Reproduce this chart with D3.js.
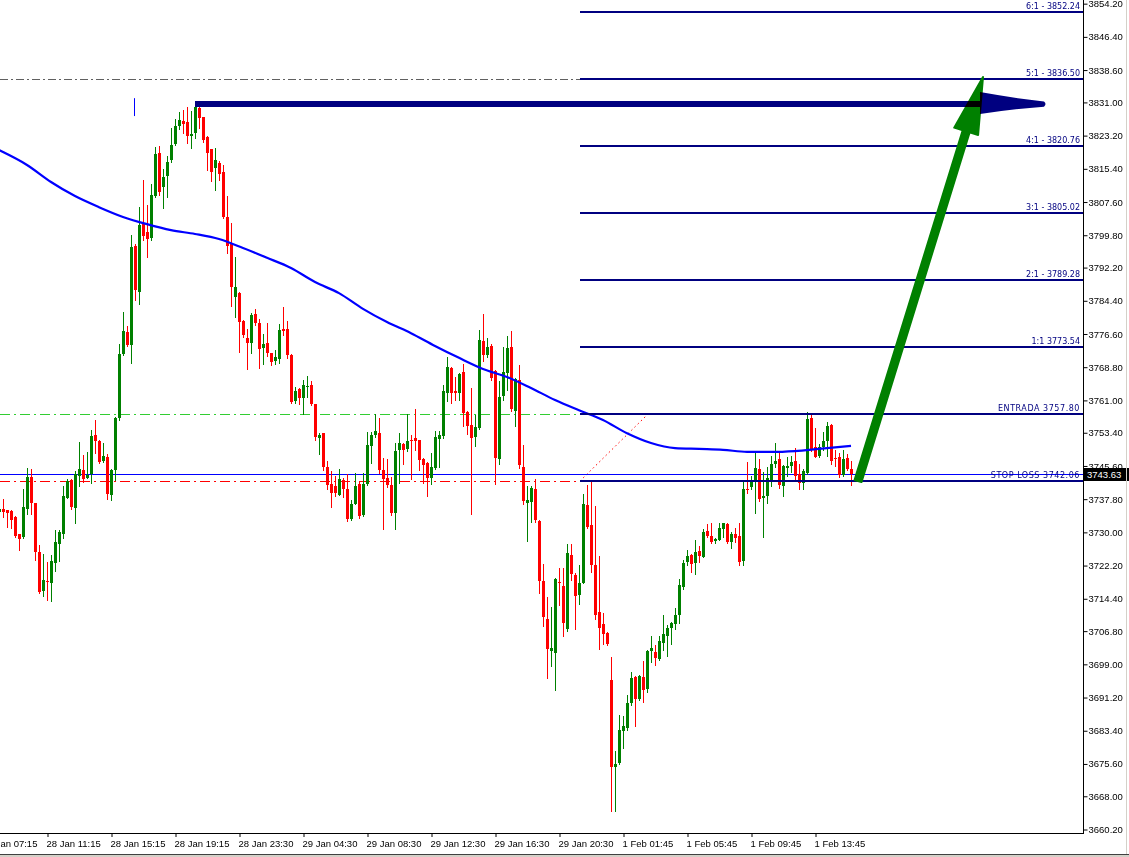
<!DOCTYPE html>
<html><head><meta charset="utf-8">
<script src="https://cdn.jsdelivr.net/npm/d3@7"></script>
<style>html,body{margin:0;padding:0;background:#fff;}svg{display:block;}</style>
</head><body>
<svg id="chart" width="1129" height="857"></svg>
<script>
// ---- data ----
const firstIndex = -1; // index of first candle in the array (bar position)
// [open, high, low, close]
const candles = [
[3734.8,3737.6,3733.8,3735.5],[3735.5,3737.8,3733.6,3734.8],[3735.3,3735.3,3731.3,3734.6],[3735.0,3735.3,3731.0,3732.9],
[3733.6,3733.8,3728.9,3729.1],[3729.6,3729.6,3725.9,3728.4],[3728.9,3740.2,3728.7,3736.0],[3735.5,3745.1,3734.3,3743.0],
[3743.0,3744.9,3734.3,3736.9],[3736.9,3737.0,3723.5,3725.4],[3725.4,3727.0,3715.8,3716.0],[3716.2,3724.9,3715.1,3718.8],
[3718.6,3723.0,3714.1,3718.3],[3718.1,3724.7,3713.9,3723.3],[3722.8,3730.6,3720.9,3727.7],[3727.3,3730.6,3723.3,3730.1],
[3729.6,3740.9,3728.7,3738.5],[3738.1,3742.5,3738.0,3742.1],[3742.3,3742.5,3735.5,3736.0],[3735.7,3744.4,3732.2,3743.7],
[3743.2,3751.2,3740.9,3744.9],[3744.7,3748.2,3741.8,3742.5],[3742.8,3748.9,3742.7,3743.5],[3743.7,3754.0,3741.6,3752.6],
[3752.9,3756.4,3748.6,3751.5],[3751.5,3751.6,3746.3,3746.5],[3746.8,3751.0,3746.6,3747.9],[3747.7,3748.4,3737.8,3739.0],
[3738.8,3744.9,3737.6,3744.7],[3744.7,3757.1,3742.3,3756.9],[3756.9,3774.2,3756.4,3771.9],[3771.9,3781.8,3771.7,3777.3],
[3777.1,3778.5,3773.8,3774.0],[3774.0,3799.9,3769.8,3797.0],[3797.3,3797.7,3784.6,3786.9],[3786.5,3806.4,3783.6,3802.2],
[3802.7,3812.8,3798.7,3799.6],[3800.6,3806.9,3794.7,3798.9],[3799.1,3811.8,3798.7,3809.2],[3809.0,3820.5,3808.8,3818.9],
[3819.1,3820.8,3809.2,3810.0],[3811.1,3815.3,3806.2,3813.5],[3813.7,3818.4,3808.8,3817.0],[3817.5,3825.0,3817.0,3821.0],
[3821.2,3827.1,3821.0,3825.5],[3825.5,3828.7,3824.7,3826.9],[3826.6,3829.2,3823.8,3825.9],[3826.4,3829.9,3821.5,3823.1],
[3823.1,3829.0,3820.3,3823.6],[3823.8,3830.6,3822.6,3829.9],[3829.7,3830.4,3825.0,3827.3],[3827.5,3827.6,3821.7,3822.2],
[3822.9,3823.0,3815.1,3819.1],[3820.0,3820.1,3812.5,3814.6],[3815.6,3820.3,3810.4,3817.5],[3816.7,3817.2,3812.8,3814.2],
[3814.6,3816.3,3803.9,3804.1],[3804.1,3809.0,3795.6,3797.3],[3797.7,3802.7,3783.2,3787.6],[3785.3,3794.7,3780.6,3787.6],
[3786.2,3786.5,3772.4,3779.4],[3779.6,3779.9,3775.9,3776.4],[3775.6,3777.8,3768.4,3774.5],[3774.5,3781.5,3772.1,3781.1],
[3781.3,3782.5,3778.7,3779.2],[3779.2,3780.1,3768.6,3773.1],[3773.3,3776.6,3769.5,3774.2],[3774.5,3779.2,3771.4,3772.1],
[3772.1,3772.2,3769.3,3770.0],[3770.3,3772.8,3769.5,3771.2],[3770.7,3778.9,3769.8,3777.5],[3777.8,3782.9,3776.4,3777.3],
[3777.8,3779.6,3770.9,3771.7],[3771.7,3771.8,3760.4,3760.6],[3760.9,3764.1,3760.4,3763.2],[3763.7,3763.8,3760.1,3761.6],
[3761.6,3765.8,3757.8,3764.6],[3764.4,3766.7,3761.8,3764.4],[3764.6,3765.6,3759.9,3760.1],[3760.1,3760.2,3751.7,3752.4],
[3752.2,3753.3,3748.4,3752.9],[3753.3,3753.4,3744.7,3745.4],[3745.4,3746.8,3740.2,3741.1],[3741.4,3744.4,3736.0,3739.2],
[3740.9,3743.2,3738.5,3739.2],[3738.8,3744.9,3738.7,3742.5],[3742.3,3742.8,3738.3,3740.2],[3740.2,3743.7,3732.7,3733.1],
[3733.1,3737.6,3732.9,3736.7],[3736.7,3743.9,3736.6,3740.9],[3741.4,3742.1,3733.4,3733.8],[3734.1,3743.9,3733.9,3741.4],
[3741.4,3753.6,3741.1,3750.5],[3750.3,3753.6,3746.3,3752.9],[3752.9,3757.8,3752.4,3753.8],[3753.3,3756.9,3743.9,3744.7],
[3744.7,3747.5,3730.8,3742.5],[3742.8,3747.2,3740.6,3741.1],[3741.1,3743.0,3734.1,3734.6],[3734.6,3751.0,3730.8,3749.1],
[3749.3,3753.3,3741.6,3751.0],[3750.8,3750.9,3746.1,3749.3],[3749.6,3757.8,3749.1,3751.5],[3751.7,3752.9,3742.5,3751.5],
[3752.2,3759.0,3749.3,3751.5],[3751.7,3751.8,3744.7,3747.0],[3747.2,3747.5,3741.6,3745.8],[3746.3,3746.5,3738.5,3742.8],
[3742.8,3748.6,3741.4,3745.4],[3745.1,3753.8,3745.0,3752.4],[3751.9,3753.8,3745.4,3752.9],[3752.6,3764.6,3752.2,3763.2],
[3762.7,3771.2,3760.9,3768.8],[3768.6,3768.8,3760.4,3762.7],[3763.2,3766.5,3761.1,3762.7],[3762.7,3767.4,3761.1,3767.2],
[3767.7,3769.6,3755.0,3758.0],[3758.3,3758.5,3753.1,3755.0],[3755.2,3763.9,3734.3,3752.2],[3752.4,3757.6,3750.3,3754.7],
[3754.5,3777.5,3754.3,3775.2],[3774.9,3781.3,3770.3,3771.7],[3771.7,3775.6,3771.2,3773.5],[3773.8,3774.2,3765.8,3766.3],
[3767.9,3768.1,3741.4,3747.5],[3747.2,3765.6,3746.1,3761.8],[3762.0,3773.5,3761.1,3767.7],[3767.4,3776.1,3763.4,3773.3],
[3773.5,3777.3,3758.5,3759.0],[3758.5,3766.3,3755.0,3766.0],[3765.8,3769.3,3745.1,3745.8],[3745.4,3750.5,3736.7,3737.4],
[3736.9,3740.9,3727.9,3737.6],[3737.1,3740.9,3732.4,3740.4],[3740.2,3742.5,3732.4,3732.9],[3732.7,3732.9,3715.8,3718.6],
[3718.6,3722.6,3708.0,3710.1],[3709.6,3714.8,3695.8,3702.6],[3702.1,3712.5,3698.6,3702.8],[3701.6,3719.3,3693.0,3719.0],
[3718.3,3721.6,3712.9,3718.1],[3717.4,3721.6,3705.6,3708.7],[3707.3,3727.3,3706.8,3725.2],[3724.7,3727.3,3718.8,3720.2],
[3720.0,3720.5,3707.3,3715.1],[3715.3,3722.3,3713.2,3718.1],[3718.1,3739.0,3718.0,3736.7],[3736.4,3741.1,3731.1,3731.3],
[3731.7,3742.1,3720.7,3722.3],[3722.3,3736.2,3709.6,3710.6],[3711.3,3724.4,3702.6,3707.5],[3708.5,3711.0,3703.8,3706.1],
[3706.3,3706.6,3703.5,3703.8],[3695.3,3700.7,3664.5,3674.9],[3674.9,3678.6,3664.5,3675.6],[3675.8,3687.1,3675.6,3683.6],
[3683.3,3686.9,3679.4,3684.5],[3684.0,3691.8,3683.6,3689.9],[3689.9,3697.2,3689.4,3695.8],[3696.0,3696.2,3684.5,3690.8],
[3690.8,3696.4,3690.6,3696.3],[3696.0,3699.8,3690.2,3693.0],[3693.2,3702.4,3692.5,3702.1],[3702.1,3705.6,3699.6,3702.8],
[3701.9,3703.5,3698.8,3700.5],[3700.3,3705.6,3700.0,3704.5],[3704.0,3710.6,3702.4,3706.1],[3705.6,3708.2,3700.9,3707.5],
[3707.5,3708.9,3703.8,3708.7],[3708.5,3712.2,3707.3,3710.6],[3710.6,3719.0,3708.7,3717.6],[3717.2,3723.5,3716.7,3722.8],
[3723.0,3725.9,3722.3,3724.4],[3724.7,3724.9,3720.7,3722.6],[3722.8,3728.2,3720.2,3725.4],[3725.6,3726.8,3723.0,3724.4],
[3724.2,3730.8,3724.1,3730.1],[3730.3,3732.0,3728.9,3729.1],[3729.1,3732.2,3727.5,3727.7],[3728.0,3728.7,3727.5,3728.4],
[3728.2,3732.2,3728.1,3731.0],[3730.8,3732.3,3728.9,3732.2],[3732.0,3732.3,3727.6,3727.7],[3727.7,3730.1,3726.3,3729.6],
[3729.6,3731.0,3727.7,3728.7],[3729.1,3732.2,3722.3,3723.0],[3723.3,3741.8,3722.3,3740.2],[3740.2,3746.5,3739.2,3739.9],
[3740.6,3743.2,3740.2,3741.8],[3741.8,3748.9,3734.6,3745.1],[3744.9,3747.2,3737.4,3737.8],[3738.1,3744.2,3728.9,3738.5],
[3738.5,3745.4,3736.9,3742.8],[3742.3,3747.9,3740.9,3746.1],[3746.1,3751.0,3745.4,3746.8],[3747.2,3748.6,3740.4,3741.1],
[3740.9,3745.8,3738.5,3745.6],[3745.1,3747.7,3743.2,3745.6],[3745.6,3747.9,3744.2,3746.5],[3746.8,3749.8,3742.1,3743.2],
[3743.7,3746.1,3740.2,3741.6],[3741.6,3744.9,3740.2,3744.4],[3743.9,3758.3,3743.8,3756.6],[3756.9,3757.8,3749.1,3749.6],
[3750.0,3754.5,3747.6,3747.7],[3747.9,3750.8,3747.6,3750.0],[3750.0,3753.6,3749.3,3751.5],[3751.5,3755.9,3747.9,3755.0],
[3755.2,3755.5,3746.1,3746.8],[3747.5,3749.3,3745.6,3747.4],[3747.7,3748.6,3743.0,3743.5],[3743.5,3749.3,3743.2,3747.2],
[3747.5,3748.4,3744.7,3744.9],[3744.9,3746.8,3741.1,3743.63]
];
// moving average [bar index, value]
const maPoints = [
[-1,3819.8],[6,3816.3],[12,3812.3],[18,3809.0],[24,3806.4],[30,3804.1],[36,3802.4],[42,3801.0],[48,3800.1],
[54,3798.9],[60,3796.8],[66,3794.5],[72,3792.1],[78,3788.8],[84,3786.2],[90,3782.5],[96,3779.4],[102,3776.8],
[108,3773.8],[114,3771.0],[120,3768.4],[126,3766.5],[132,3763.9],[138,3761.1],[144,3758.7],[150,3756.4],
[156,3753.3],[162,3751.0],[168,3749.8],[174,3749.6],[180,3749.4],[186,3748.9],[192,3748.9],[198,3749.1],
[204,3749.6],[212,3750.3]
];
const priceTicks = [3854.20,3846.40,3838.60,3831.00,3823.20,3815.40,3807.60,3799.80,3792.20,3784.40,3776.60,3768.80,
3761.00,3753.40,3745.60,3737.80,3730.00,3722.20,3714.40,3706.80,3699.00,3691.20,3683.40,3675.60,3668.00,3660.20];
const timeTickIndex = [-5,11,27,43,59,75,91,107,123,139,155,171,187,203];
const timeLabels = ["28 Jan 07:15","28 Jan 11:15","28 Jan 15:15","28 Jan 19:15","28 Jan 23:30","29 Jan 04:30",
"29 Jan 08:30","29 Jan 12:30","29 Jan 16:30","29 Jan 20:30","1 Feb 01:45","1 Feb 05:45","1 Feb 09:45","1 Feb 13:45"];
const fibPrices = [3852.24,3836.50,3820.76,3805.02,3789.28,3773.54,3757.80,3742.06];
const fibLabels = ["6:1 - 3852.24","5:1 - 3836.50","4:1 - 3820.76","3:1 - 3805.02","2:1 - 3789.28","1:1 3773.54",
"ENTRADA 3757.80","STOP LOSS 3742.06"];
const fibStart = [144.25, 3742.06];   // anchor of the fibo object
const fibEnd = [161.25, 3757.80];
const entryPrice = 3757.80, stopPrice = 3742.06, targetGuide = 3836.50;
const bidPrice = 3743.63;
const highArrow = {from:[48, 3830.6], to:[260.75, 3830.6]};
const greenArrow = {from:[213.75, 3742.06], to:[245, 3837.0]};
const markerLine = {index:32.75, top:3832.0, bottom:3827.8};

// ---- layout ----
const plotR = 1083, plotB = 833;
const svg = d3.select("#chart");
const x = d3.scaleLinear().domain([0,212]).range([3,851]);
const y = d3.scaleLinear().domain([3660.2,3854.2]).range([829.5,3.66]);
const NAVY = "#000080", GREEN = "#008000", RED = "#FF0000", BLUE = "#0000FF";

svg.append("rect").attr("width",1129).attr("height",857).attr("fill","#fff");
svg.append("defs").append("clipPath").attr("id","plot").append("rect")
  .attr("x",0).attr("y",0).attr("width",plotR).attr("height",plotB);
const g = svg.append("g").attr("clip-path","url(#plot)");

// dashed guide lines left of the fibo anchor
g.append("line").attr("x1",0).attr("x2",x(fibStart[0])).attr("y1",Math.round(y(targetGuide))+0.5).attr("y2",Math.round(y(targetGuide))+0.5)
  .attr("stroke","#606060").attr("stroke-dasharray","8,3,2,3");
g.append("line").attr("x1",0).attr("x2",x(fibStart[0])).attr("y1",Math.round(y(entryPrice))+0.5).attr("y2",Math.round(y(entryPrice))+0.5)
  .attr("stroke","#32CD32").attr("stroke-dasharray","10,4,2,4");
g.append("line").attr("x1",0).attr("x2",x(fibStart[0])).attr("y1",Math.round(y(stopPrice))+0.5).attr("y2",Math.round(y(stopPrice))+0.5)
  .attr("stroke",RED).attr("stroke-dasharray","10,4,2,4");
// fibo trend (dotted)
g.append("line").attr("x1",x(fibStart[0])).attr("y1",y(fibStart[1])).attr("x2",x(fibEnd[0])).attr("y2",y(fibEnd[1]))
  .attr("stroke",RED).attr("stroke-dasharray","1.5,3");

// bid line
g.append("line").attr("x1",0).attr("x2",plotR).attr("y1",Math.round(y(bidPrice))+0.5).attr("y2",Math.round(y(bidPrice))+0.5)
  .attr("stroke",BLUE).attr("stroke-width",1);

// candles
const cg = g.append("g");
candles.forEach((c,k)=>{
  const i = k + firstIndex;
  const xc = Math.round(x(i));
  const [o,h,l,cl] = c;
  const col = cl >= o ? GREEN : RED;
  const yh = Math.round(y(h)), yl = Math.round(y(l));
  cg.append("rect").attr("x",xc).attr("y",yh).attr("width",1).attr("height",Math.max(1,yl-yh+1)).attr("fill",col);
  const yt = Math.round(y(Math.max(o,cl))), yb = Math.round(y(Math.min(o,cl)));
  cg.append("rect").attr("x",xc-1).attr("y",yt).attr("width",3).attr("height",Math.max(1,yb-yt)).attr("fill",col);
});

// moving average
g.append("path").datum(maPoints)
  .attr("d",d3.line().x(d=>x(d[0])).y(d=>y(d[1])).curve(d3.curveMonotoneX))
  .attr("fill","none").attr("stroke",BLUE).attr("stroke-width",2.2);

// fibo levels
fibPrices.forEach((p,k)=>{
  const yy = Math.round(y(p));
  g.append("rect").attr("x",x(fibStart[0])).attr("y",yy-1).attr("width",plotR-x(fibStart[0])).attr("height",2).attr("fill",NAVY);
  const hasWord = /[A-Z]/.test(fibLabels[k]);
  g.append("text").attr("x",plotR-3).attr("y",yy-3).attr("text-anchor","end")
    .attr("font-family","DejaVu Sans").attr("font-size",8).attr("fill",NAVY)
    .attr("letter-spacing",hasWord?0.55:0).text(fibLabels[k]);
});

// small vertical marker
g.append("rect").attr("x",Math.round(x(markerLine.index))).attr("y",y(markerLine.top)).attr("width",1)
  .attr("height",y(markerLine.bottom)-y(markerLine.top)).attr("fill",BLUE);

// arrows (multiplied where they overlap)
const ag = g.append("g").style("isolation","isolate");
{
  const x0=x(highArrow.from[0]), y0=y(highArrow.from[1]), x1=x(highArrow.to[0]), y1=y(highArrow.to[1]);
  const bx = x1-66;
  ag.append("path").style("mix-blend-mode","multiply").attr("fill",NAVY)
    .attr("d",`M${x0},${y0-3} L${bx},${y1-3} L${bx},${y1-12} Q${bx+30},${y1-6.5} ${x1-2},${y1-2.6} Q${x1+1},${y1} ${x1-2},${y1+2.6} Q${bx+30},${y1+5} ${bx},${y1+10} L${bx},${y1+3} L${x0},${y0+3} Z`);
}
{
  const x0=x(greenArrow.from[0]), y0=y(greenArrow.from[1]), x1=x(greenArrow.to[0]), y1=y(greenArrow.to[1]);
  const dx=x1-x0, dy=y1-y0, L=Math.hypot(dx,dy), ux=dx/L, uy=dy/L, px=-uy, py=ux;
  const hl=57, hw=12.5, sw=3.6;
  const bx=x1-ux*hl, by=y1-uy*hl;
  const pts=[[x0+px*sw,y0+py*sw],[bx+px*sw,by+py*sw],[bx+px*hw,by+py*hw],[x1,y1],[bx-px*hw,by-py*hw],[bx-px*sw,by-py*sw],[x0-px*sw,y0-py*sw]];
  ag.append("path").style("mix-blend-mode","multiply").attr("fill",GREEN)
    .attr("stroke",GREEN).attr("stroke-width",2).attr("stroke-linejoin","round")
    .attr("d","M"+pts.map(p=>p.join(",")).join("L")+"Z");
}

// axes frame
svg.append("rect").attr("x",plotR).attr("y",0).attr("width",1).attr("height",plotB+1).attr("fill","#000");
svg.append("rect").attr("x",0).attr("y",plotB).attr("width",plotR+1).attr("height",1).attr("fill","#000");

const yAxis = d3.axisRight(y).tickValues(priceTicks).tickSize(4).tickPadding(1).tickFormat(d3.format(".2f"));
const ya = svg.append("g").attr("transform",`translate(${plotR+0.5},0)`).call(yAxis);
ya.select(".domain").remove();
ya.attr("font-family","Liberation Sans").attr("font-size",9.5);
ya.selectAll("text").attr("fill","#000");
ya.selectAll("line").attr("stroke","#000");

const xb = d3.scaleLinear().domain([0,212]).range([3,851]);
const xAxis = d3.axisBottom(xb).tickValues(timeTickIndex).tickSize(4).tickPadding(3)
  .tickFormat((d,i)=>timeLabels[i]);
const xa = svg.append("g").attr("transform",`translate(0.5,${plotB})`).call(xAxis);
xa.select(".domain").remove();
xa.attr("font-family","Liberation Sans").attr("font-size",9.5);
xa.selectAll("text").attr("text-anchor","start").attr("x",-1.5).attr("fill","#000");
xa.selectAll("line").attr("stroke","#000");

// current price label
const by0 = Math.round(y(bidPrice));
svg.append("rect").attr("x",plotR).attr("y",by0-6).attr("width",1129-plotR).attr("height",13).attr("fill","#000");
svg.append("text").attr("x",plotR+4).attr("y",by0+3.5).attr("font-family","Liberation Sans").attr("font-size",9.5)
  .attr("fill","#fff").text(d3.format(".2f")(bidPrice));

// window border
svg.append("rect").attr("x",0).attr("y",854).attr("width",1129).attr("height",1).attr("fill","#404040");
svg.append("rect").attr("x",0).attr("y",855).attr("width",1129).attr("height",2).attr("fill","#d4d0c8");
svg.append("rect").attr("x",1126).attr("y",0).attr("width",1).attr("height",854).attr("fill","#d4d0c8");
</script>
</body></html>
